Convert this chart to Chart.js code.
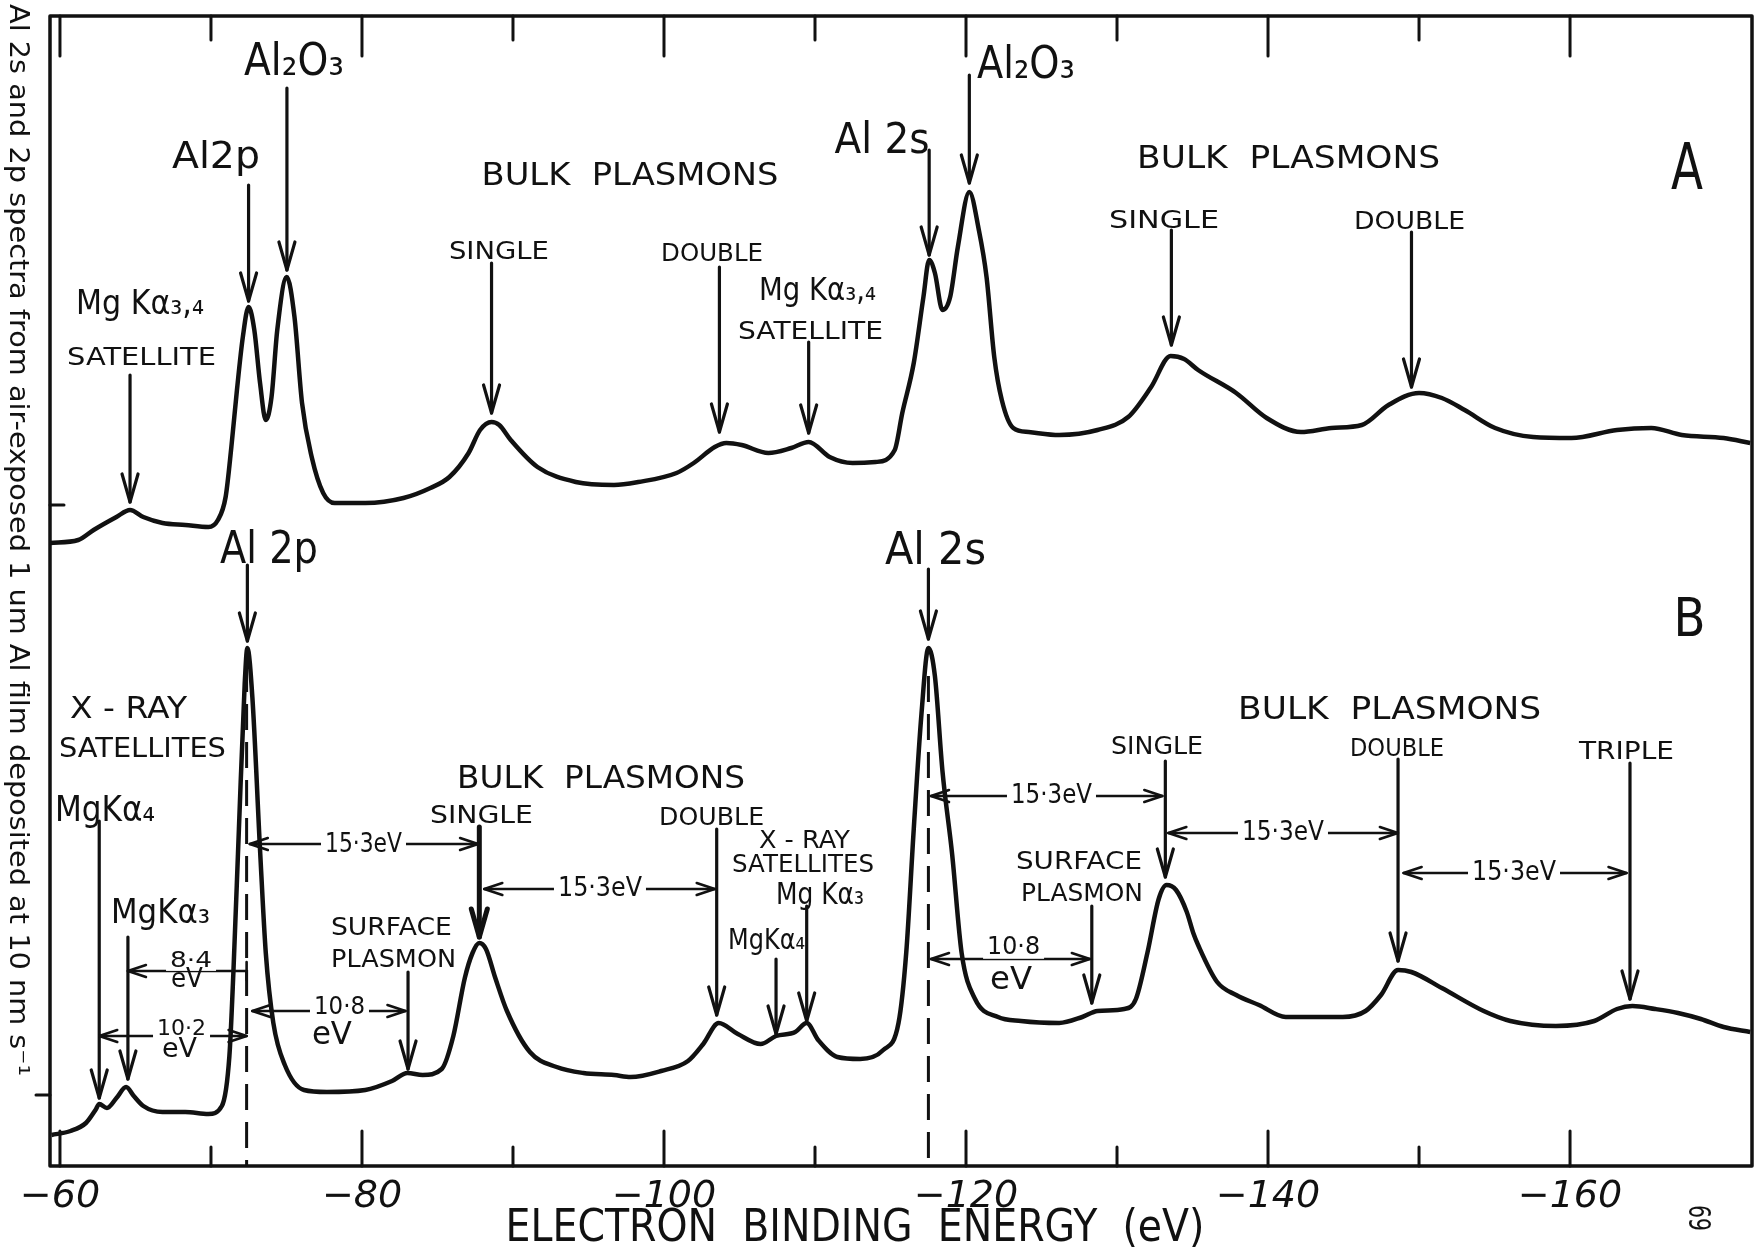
<!DOCTYPE html>
<html>
<head>
<meta charset="utf-8">
<script src="https://cdn.jsdelivr.net/npm/chart.js@4.4.0/dist/chart.umd.min.js"></script>
<style>
  html, body { margin: 0; padding: 0; background: #fff; }
  #wrap { width: 1757px; height: 1259px; position: relative; }
</style>
</head>
<body>
<div id="wrap"><canvas id="xps"></canvas></div>
<script>
/* ============================================================
   1. DATA  (binding energy in eV, intensity in arbitrary units)
   ============================================================ */
const X_MIN = -172.05;
const X_MAX = -59.34;
const Y_MAX = 115;

const xMajorValues = [-60, -80, -100, -120, -140, -160];
const xMajorLabels = ['−60', '−80', '−100', '−120', '−140', '−160'];
const xMinorValues = [-70, -90, -110, -130, -150];

// Spectrum A
const energyA = [-59.35, -61.21, -62.23, -63.74, -64.64, -65.52, -66.79, -68.30, -69.83, -70.46,
  -70.97, -71.35, -71.72, -72.11, -72.49, -72.87, -73.25, -73.63, -74.01, -74.39,
  -75.02, -75.53, -76.03, -76.67, -77.43, -78.19, -80.22, -82.75, -84.53, -85.79,
  -87.06, -87.82, -88.58, -89.09, -89.85, -91.62, -94.16, -96.69, -98.30, -100.83,
  -101.97, -103.36, -104.13, -105.14, -106.91, -108.43, -109.58, -110.97, -112.49, -114.01,
  -115.28, -115.78, -116.54, -117.18, -117.56, -117.94, -118.44, -118.95, -119.46, -120.22,
  -120.85, -121.36, -121.87, -122.37, -123.13, -124.15, -126.17, -128.71, -130.74, -132.26,
  -133.55, -134.44, -135.37, -137.89, -139.91, -142.18, -144.20, -146.21, -147.98, -150.00,
  -151.51, -153.02, -155.04, -157.56, -160.09, -163.11, -165.38, -167.40, -170.17, -171.93];
const countsA = [62.3, 62.6, 63.6, 64.9, 65.6, 64.9, 64.3, 64.1, 63.9, 64.6,
  66.9, 71.9, 77.6, 82.9, 85.9, 83.6, 78.3, 74.6, 76.9, 83.6,
  88.9, 84.9, 76.3, 70.9, 67.3, 66.3, 66.3, 66.8, 67.8, 68.9,
  71.3, 73.6, 74.4, 74.1, 72.6, 69.9, 68.4, 68.1, 68.4, 69.3,
  70.3, 71.9, 72.3, 72.1, 71.3, 71.8, 72.4, 70.9, 70.3, 70.4,
  71.6, 75.3, 80.3, 86.9, 90.6, 89.3, 85.6, 86.9, 91.9, 97.4,
  93.6, 88.9, 80.9, 76.6, 73.8, 73.4, 73.1, 73.6, 74.9, 77.9,
  81.0, 80.7, 79.6, 77.3, 74.8, 73.4, 73.8, 74.1, 76.1, 77.3,
  76.8, 75.6, 73.8, 72.9, 72.8, 73.6, 73.8, 73.1, 72.8, 72.3];

// Spectrum B
const energyB = [-59.44, -60.70, -61.72, -62.35, -62.60, -63.11, -63.74, -64.38, -64.89, -65.52,
  -66.79, -68.30, -69.83, -70.72, -71.22, -71.48, -71.85, -72.23, -72.41, -72.74,
  -73.25, -73.63, -74.13, -74.89, -76.16, -77.68, -80.22, -81.99, -83.01, -84.02,
  -85.28, -86.05, -86.81, -87.32, -87.77, -88.21, -88.83, -89.60, -91.12, -92.89,
  -94.66, -96.69, -97.79, -99.81, -101.59, -102.60, -103.62, -104.89, -106.40, -107.42,
  -108.69, -109.45, -110.21, -111.48, -112.99, -114.52, -115.53, -116.04, -116.54, -117.05,
  -117.51, -117.94, -118.44, -119.08, -119.71, -120.60, -122.12, -123.64, -126.17, -127.70,
  -128.71, -130.48, -131.25, -132.01, -132.76, -133.28, -133.91, -134.62, -135.05, -135.37,
  -136.63, -137.89, -139.40, -141.17, -142.93, -144.95, -146.46, -147.48, -148.61, -149.49,
  -151.51, -154.28, -156.05, -159.07, -161.60, -163.11, -164.13, -165.63, -167.15, -168.66,
  -170.17, -171.93];
const countsB = [3.1, 3.5, 4.3, 5.6, 6.2, 5.8, 6.8, 7.9, 7.0, 6.0,
  5.4, 5.4, 5.2, 6.0, 11.0, 19.2, 33.7, 48.1, 51.8, 46.9,
  31.6, 21.3, 14.3, 10.1, 7.6, 7.4, 7.6, 8.5, 9.3, 9.1,
  9.7, 13.0, 18.8, 21.3, 22.3, 21.7, 18.8, 15.5, 11.4, 9.9,
  9.3, 9.1, 8.9, 9.5, 10.5, 12.2, 14.3, 13.2, 12.2, 13.0,
  13.4, 14.3, 12.6, 10.9, 10.7, 11.6, 14.3, 21.3, 33.7, 45.2,
  51.8, 49.0, 39.5, 31.2, 21.3, 16.7, 14.9, 14.5, 14.3, 14.9,
  15.5, 15.7, 16.7, 21.3, 26.7, 28.1, 27.6, 25.4, 23.3, 22.1,
  18.4, 17.1, 16.1, 14.9, 14.9, 14.9, 15.5, 17.1, 19.6, 19.4,
  17.8, 15.5, 14.5, 14.0, 14.5, 15.7, 16.0, 15.7, 15.3, 14.7,
  13.9, 13.4];

/* ============================================================
   2. ANNOTATIONS  (placed in data units, drawn through the scales)
   ============================================================ */
const INK = '#111';
const FONT = '"DejaVu Sans", sans-serif';

// [energy, top value, tip value, line width]
const peakArrows = [
  [-75.03, 107.8, 89.6], [-72.49, 98.1, 86.5], [-64.64, 79.1, 66.4],
  [-88.58, 90.3, 75.3], [-103.67, 89.9, 73.4], [-109.58, 82.4, 73.3],
  [-117.56, 101.6, 91.1], [-120.22, 109.1, 98.3], [-133.6, 93.6, 82.1],
  [-149.5, 93.4, 77.9],
  [-72.41, 60.1, 52.5], [-62.6, 34.5, 6.8], [-64.5, 22.9, 8.7],
  [-87.77, 33.9, 22.9, 5], [-83.05, 19.4, 9.7], [-103.49, 33.7, 15.1],
  [-109.45, 26.0, 14.5], [-107.42, 20.7, 13.2], [-117.51, 59.7, 52.7],
  [-133.2, 40.5, 28.9], [-128.33, 26.0, 16.3], [-148.61, 40.7, 20.5],
  [-163.97, 40.3, 16.7],
];

// [value, left energy, right energy, head on left, head on right]
const brackets = [
  [19.5, -64.5, -72.36, true, false],
  [13.0, -62.6, -72.36, true, true],
  [32.2, -72.57, -87.69, true, true],
  [27.7, -88.1, -103.36, true, true],
  [15.5, -72.74, -82.88, true, true],
  [37.0, -117.68, -133.0, true, true],
  [33.3, -133.4, -148.6, true, true],
  [20.7, -117.68, -128.2, true, true],
  [29.3, -148.98, -163.74, true, true],
];

// [energy, from value, to value]
const dashedMarkers = [[-72.36, 50, 0], [-117.51, 49, 0]];

// [text, energy, value, font size, width in px, clear background]
const notes = [
  ['Al₂O₃', -75.50, 110.3, 45, 100], ['Al2p', -70.33, 100.8, 38, 88],
  ['Mg Kα₃,₄', -65.30, 86.1, 34, 128], ['SATELLITE', -65.40, 80.7, 24, 149],
  ['BULK  PLASMONS', -97.75, 98.9, 32, 297], ['SINGLE', -89.07, 91.4, 25, 100],
  ['DOUBLE', -103.18, 91.2, 25, 102], ['Mg Kα₃,₄', -110.17, 87.4, 32, 117],
  ['SATELLITE', -109.70, 83.35, 24, 145], ['Al 2s', -114.44, 102.4, 42, 95],
  ['Al₂O₃', -123.97, 110.0, 45, 98], ['BULK  PLASMONS', -141.36, 100.6, 32, 303],
  ['SINGLE', -133.11, 94.5, 25, 110], ['DOUBLE', -149.37, 94.4, 25, 111],
  ['A', -167.75, 99.4, 64, 32],
  ['Al 2p', -73.84, 61.4, 44, 98], ['X - RAY', -64.54, 45.6, 30, 117],
  ['SATELLITES', -65.46, 41.55, 26, 167], ['MgKα₄', -62.98, 35.4, 36, 100],
  ['MgKα₃', -66.66, 25.2, 34, 99], ['8·4', -68.68, 20.5, 22, 42, true],
  ['eV', -68.41, 18.6, 26, 32], ['10·2', -68.05, 13.7, 22, 49, true],
  ['eV', -67.91, 11.6, 26, 35], ['15·3eV', -80.10, 32.1, 26, 77, true],
  ['SINGLE', -87.91, 35.0, 25, 103], ['BULK  PLASMONS', -95.83, 38.6, 32, 288],
  ['15·3eV', -95.76, 27.7, 26, 84, true], ['SURFACE', -81.95, 23.8, 25, 121],
  ['PLASMON', -82.09, 20.6, 25, 125], ['10·8', -78.51, 15.8, 24, 51, true],
  ['eV', -78.01, 13.0, 32, 40], ['DOUBLE', -103.15, 34.8, 25, 105],
  ['X - RAY', -109.30, 32.45, 24, 91], ['SATELLITES', -109.21, 30.05, 24, 142],
  ['Mg Kα₃', -110.33, 27.0, 30, 88], ['MgKα₄', -106.79, 22.4, 28, 77],
  ['Al 2s', -117.98, 61.3, 44, 101], ['15·3eV', -125.66, 37.0, 26, 81, true],
  ['SINGLE', -132.65, 41.8, 24, 92], ['15·3eV', -140.99, 33.3, 26, 82, true],
  ['SURFACE', -127.48, 30.4, 25, 126], ['PLASMON', -127.68, 27.2, 25, 122],
  ['10·8', -123.15, 21.8, 24, 53, true], ['eV', -122.98, 18.5, 32, 42],
  ['BULK  PLASMONS', -148.05, 45.55, 32, 303], ['DOUBLE', -148.54, 41.6, 24, 94],
  ['TRIPLE', -163.74, 41.35, 24, 95], ['15·3eV', -156.29, 29.3, 26, 84, true],
  ['B', -167.91, 54.4, 54, 32],
];

const sideTitle = 'Al 2s and 2p spectra from air-exposed 1 um Al film deposited at 10 nm s⁻¹';
const axisTitle = 'ELECTRON  BINDING  ENERGY  (eV)';

/* ============================================================
   3. DRAW HELPERS
   ============================================================ */
function fitText(ctx, text, cx, cy, size, width, style) {
  ctx.save();
  ctx.font = (style || '') + ' ' + size + 'px ' + FONT;
  const m = ctx.measureText(text).width;
  const k = Math.max(0.55, Math.min(1.8, width / m));
  ctx.translate(cx, cy);
  ctx.scale(k, 1);
  ctx.textAlign = 'center';
  ctx.textBaseline = 'middle';
  ctx.fillText(text, 0, 0);
  ctx.restore();
}

function line(ctx, x1, y1, x2, y2) {
  ctx.beginPath();
  ctx.moveTo(x1, y1);
  ctx.lineTo(x2, y2);
  ctx.stroke();
}

function downArrow(ctx, x, y1, y2) {
  line(ctx, x, y1, x, y2);
  ctx.beginPath();
  ctx.moveTo(x - 8, y2 - 28);
  ctx.lineTo(x, y2);
  ctx.lineTo(x + 8, y2 - 28);
  ctx.stroke();
}

function sideHead(ctx, x, y, dir) {
  ctx.beginPath();
  ctx.moveTo(x + dir * 18, y - 6);
  ctx.lineTo(x, y);
  ctx.lineTo(x + dir * 18, y + 6);
  ctx.stroke();
}

/* ============================================================
   4. ANNOTATION PLUGIN
   ============================================================ */
const annotate = {
  id: 'annotate',
  afterDraw(chart) {
    const { ctx, chartArea: a } = chart;
    const xs = chart.scales.x, ys = chart.scales.y;
    const px = v => xs.getPixelForValue(v);
    const py = v => ys.getPixelForValue(v);

    ctx.save();
    ctx.strokeStyle = INK;
    ctx.fillStyle = INK;
    ctx.lineCap = 'round';
    ctx.lineJoin = 'round';

    // frame
    ctx.lineWidth = 3.5;
    ctx.strokeRect(a.left, a.top, a.right - a.left, a.bottom - a.top);

    // inward ticks, top and bottom
    ctx.lineWidth = 3;
    xMajorValues.forEach(v => {
      line(ctx, px(v), a.bottom, px(v), a.bottom - 35);
      line(ctx, px(v), a.top, px(v), a.top + 40);
    });
    xMinorValues.forEach(v => {
      line(ctx, px(v), a.bottom, px(v), a.bottom - 19);
      line(ctx, px(v), a.top, px(v), a.top + 24);
    });
    line(ctx, a.left, py(66.1), a.left + 14, py(66.1));
    line(ctx, a.left - 14, py(7.1), a.left, py(7.1));

    // dashed markers under Al 2p and Al 2s
    ctx.setLineDash([26, 12]);
    ctx.lineCap = 'butt';
    dashedMarkers.forEach(([e, v1, v2]) => line(ctx, px(e), py(v1), px(e), py(v2)));
    ctx.setLineDash([]);
    ctx.lineCap = 'round';

    // arrows to peaks
    peakArrows.forEach(([e, v1, v2, w]) => {
      ctx.lineWidth = w || 3.2;
      downArrow(ctx, px(e), py(v1), py(v2));
    });

    // energy separation brackets
    ctx.lineWidth = 2.6;
    brackets.forEach(([v, e1, e2, h1, h2]) => {
      const y = py(v), x1 = px(e1), x2 = px(e2);
      line(ctx, x1, y, x2, y);
      if (h1) sideHead(ctx, x1, y, 1);
      if (h2) sideHead(ctx, x2, y, -1);
      if (!h2) line(ctx, x2, y - 9, x2, y + 9);
    });

    // labels
    notes.forEach(([t, e, v, size, w, bg]) => {
      const cx = px(e), cy = py(v);
      if (bg) {
        ctx.save();
        ctx.fillStyle = '#fff';
        ctx.fillRect(cx - w / 2 - 4, cy - size * 0.45, w + 8, size * 0.9);
        ctx.restore();
      }
      fitText(ctx, t, cx, cy, size, w);
    });

    // rotated side title
    ctx.save();
    ctx.translate(17, 540);
    ctx.rotate(Math.PI / 2);
    fitText(ctx, sideTitle, 0, 0, 26, 1072);
    ctx.restore();

    // axis title and page number
    fitText(ctx, axisTitle, 855, 1230, 44, 699);
    ctx.save();
    ctx.translate(1697, 1218);
    ctx.rotate(Math.PI / 2);
    fitText(ctx, '69', 0, 0, 30, 26);
    ctx.restore();

    ctx.restore();
  }
};

/* ============================================================
   5. CHART
   ============================================================ */
const toPoints = (xs, ys) => xs.map((x, i) => ({ x: x, y: ys[i] }));

new Chart(document.getElementById('xps'), {
  type: 'scatter',
  data: {
    datasets: [
      {
        label: 'A',
        data: toPoints(energyA, countsA),
        showLine: true,
        borderColor: INK,
        borderWidth: 4.5,
        pointRadius: 0,
        cubicInterpolationMode: 'monotone',
        fill: false,
      },
      {
        label: 'B',
        data: toPoints(energyB, countsB),
        showLine: true,
        borderColor: INK,
        borderWidth: 4.5,
        pointRadius: 0,
        cubicInterpolationMode: 'monotone',
        fill: false,
      },
    ],
  },
  options: {
    responsive: true,
    maintainAspectRatio: false,
    animation: false,
    layout: { padding: { left: 50, right: 5, top: 16, bottom: 0 } },
    plugins: {
      legend: { display: false },
      tooltip: { enabled: false },
    },
    scales: {
      x: {
        type: 'linear',
        reverse: true,
        min: X_MIN,
        max: X_MAX,
        afterBuildTicks: s => { s.ticks = xMajorValues.map(v => ({ value: v })); },
        afterFit: s => { s.height = 93; },
        grid: { display: false, drawTicks: false },
        border: { display: false },
        ticks: {
          autoSkip: false,
          maxRotation: 0,
          padding: 8,
          color: INK,
          font: { family: FONT, size: 38, style: 'italic' },
          callback: (v, i) => xMajorLabels[i],
        },
      },
      y: { display: false, min: 0, max: Y_MAX },
    },
  },
  plugins: [annotate],
});
</script>
</body>
</html>
